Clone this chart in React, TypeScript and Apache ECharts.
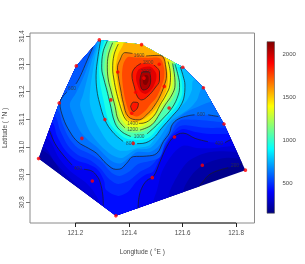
import React, { useEffect, useRef } from "react";
import * as echarts from "echarts";

type P = number[];

const jetStops = ["#00007F", "#0000FF", "#007FFF", "#00FFFF", "#7FFF7F", "#FFFF00", "#FF7F00", "#FF0000", "#7F0000"];
const barMin = 153;
const barMax = 2140;
const barTicks = [500, 1000, 1500, 2000];
const lonTicks = [121.2, 121.4, 121.6, 121.8];
const latTicks = [30.8, 30.9, 31.0, 31.1, 31.2, 31.3, 31.4];

const hull: P[] = [[121.289,31.387],[121.447,31.370],[121.601,31.288],[121.678,31.214],[121.755,31.083],[121.835,30.916],[121.351,30.751],[121.062,30.958],[121.139,31.159],[121.203,31.293]];

const stations: P[] = [[121.289,31.387],[121.447,31.370],[121.203,31.293],[121.358,31.271],[121.456,31.249],[121.513,31.299],[121.601,31.288],[121.425,31.198],[121.532,31.219],[121.139,31.159],[121.332,31.170],[121.678,31.214],[121.410,31.122],[121.310,31.099],[121.550,31.141],[121.755,31.083],[121.224,31.031],[121.416,31.013],[121.570,31.036],[121.062,30.958],[121.674,30.934],[121.263,30.877],[121.487,30.889],[121.835,30.916],[121.351,30.751]];

// contour lines, split where a level label interrupts them
const c200: P[][] = [
  [[121.662,30.857],[121.680,30.879],[121.699,30.899],[121.728,30.913],[121.771,30.925]],
  [[121.815,30.936],[121.821,30.940]],
];
const c400a: P[][] = [
  [[121.102,31.061],[121.123,31.013],[121.154,30.971],[121.187,30.935]],
  [[121.232,30.919],[121.261,30.913],[121.280,30.895],[121.292,30.873],[121.302,30.826],[121.304,30.788]],
];
const c400b: P[][] = [
  [[121.434,30.778],[121.437,30.816],[121.447,30.850],[121.467,30.879],[121.491,30.893],[121.516,30.947],[121.541,31.001],[121.568,31.037],[121.602,31.050],[121.647,31.031],[121.695,31.019]],
  [[121.759,31.016],[121.781,31.027]],
];
const c600: P[][] = [
  [[121.265,31.361],[121.244,31.314],[121.217,31.254],[121.202,31.228]],
  [[121.168,31.199],[121.142,31.159],[121.154,31.105],[121.179,31.055],[121.209,31.018],[121.249,30.995],[121.280,30.976],[121.317,30.938],[121.351,30.919],[121.366,30.920],[121.391,30.941],[121.416,30.965],[121.466,30.967],[121.504,30.977],[121.528,31.019],[121.551,31.050],[121.561,31.080],[121.584,31.101],[121.622,31.113],[121.645,31.116]],
  [[121.696,31.116],[121.734,31.110]],
];
const c800: P[][] = [
  [[121.294,31.385],[121.284,31.326],[121.277,31.257],[121.280,31.206],[121.290,31.159],[121.310,31.098],[121.339,31.054],[121.378,31.020]],
  [[121.430,31.012],[121.452,31.013],[121.490,31.031],[121.522,31.068],[121.560,31.110],[121.591,31.146],[121.607,31.188],[121.609,31.224],[121.602,31.257],[121.592,31.289]],
];
const c1000: P[][] = [
  [[121.319,31.383],[121.303,31.343],[121.298,31.286],[121.307,31.242],[121.317,31.206],[121.329,31.158],[121.348,31.086],[121.373,31.055],[121.407,31.038]],
  [[121.467,31.047],[121.497,31.073],[121.522,31.098],[121.560,31.140],[121.584,31.188],[121.589,31.224],[121.583,31.260],[121.572,31.299]],
];
const c1200: P[][] = [
  [[121.339,31.377],[121.323,31.333],[121.319,31.286],[121.323,31.242],[121.332,31.206],[121.348,31.146],[121.360,31.098],[121.385,31.069]],
  [[121.441,31.061],[121.485,31.080],[121.516,31.122],[121.535,31.152],[121.560,31.188],[121.572,31.224],[121.570,31.260],[121.563,31.302]],
];
const c1400: P[][] = [
  [[121.360,31.372],[121.344,31.333],[121.339,31.282],[121.344,31.242],[121.351,31.206],[121.364,31.158],[121.381,31.110],[121.393,31.094]],
  [[121.437,31.085],[121.453,31.086],[121.491,31.110],[121.516,31.152],[121.538,31.188],[121.553,31.224],[121.555,31.260],[121.546,31.309]],
];
const c1600: P[][] = [
  [[121.464,31.329],[121.508,31.331],[121.527,31.326],[121.538,31.286],[121.540,31.257],[121.531,31.220],[121.516,31.184],[121.497,31.152],[121.472,31.122],[121.434,31.098],[121.397,31.110],[121.379,31.158],[121.369,31.206],[121.361,31.249],[121.357,31.286],[121.366,31.314],[121.385,31.341],[121.413,31.338]],
];
const c1800: P[][] = [
  [[121.493,31.296],[121.514,31.271],[121.514,31.242],[121.497,31.213],[121.471,31.184],[121.447,31.170],[121.432,31.181],[121.421,31.213],[121.411,31.260],[121.422,31.286],[121.445,31.302]],
];
const c1800b: P[][] = [
  [[121.406,31.146],[121.416,31.162],[121.435,31.158],[121.431,31.140],[121.416,31.128],[121.406,31.146]],
];
const c2000: P[][] = [
  [[121.441,31.242],[121.453,31.272],[121.472,31.272],[121.481,31.242],[121.472,31.214],[121.453,31.206],[121.444,31.218],[121.441,31.242]],
];

// estimated colour steps between the drawn contour levels
const f250: P[] = [[121.052,30.996],[121.105,30.967],[121.150,30.888],[121.15,30.6],[121.602,30.6],[121.602,30.837],[121.635,30.899],[121.684,30.938],[121.759,30.960],[121.95,30.967],[121.95,31.5],[120.95,31.5],[120.95,30.996]];
const f300: P[] = [[121.080,31.000],[121.123,30.946],[121.179,30.888],[121.236,30.834],[121.280,30.788],[121.280,30.70],[121.546,30.70],[121.546,30.819],[121.583,30.899],[121.628,30.953],[121.703,30.982],[121.807,30.982],[121.95,30.982],[121.95,31.5],[120.95,31.5],[120.95,31.0]];
const f350: P[] = [[121.092,31.032],[121.138,30.960],[121.183,30.910],[121.236,30.873],[121.269,30.837],[121.292,30.790],[121.292,30.66],[121.49,30.66],[121.49,30.797],[121.505,30.845],[121.523,30.910],[121.561,30.971],[121.602,31.004],[121.654,30.996],[121.721,30.996],[121.796,31.004],[121.95,31.004],[121.95,31.5],[120.95,31.5],[120.95,31.032]];
const f450: P[] = [[121.110,31.090],[121.131,31.040],[121.161,30.989],[121.202,30.953],[121.247,30.938],[121.284,30.917],[121.307,30.877],[121.314,30.845],[121.359,30.823],[121.396,30.837],[121.426,30.873],[121.460,30.899],[121.490,30.910],[121.512,30.953],[121.538,31.007],[121.564,31.043],[121.602,31.065],[121.647,31.054],[121.703,31.047],[121.763,31.047],[121.95,31.047],[121.95,31.5],[120.95,31.5],[120.95,31.09]];
const f500: P[] = [[121.120,31.112],[121.142,31.061],[121.172,31.004],[121.209,30.971],[121.254,30.953],[121.292,30.924],[121.322,30.888],[121.359,30.866],[121.404,30.881],[121.441,30.910],[121.478,30.928],[121.508,30.960],[121.535,31.011],[121.561,31.047],[121.591,31.076],[121.636,31.076],[121.684,31.069],[121.748,31.069],[121.95,31.069],[121.95,31.5],[120.95,31.5],[120.95,31.112]];
const f550: P[] = [[121.131,31.134],[121.150,31.087],[121.176,31.032],[121.209,30.996],[121.262,30.971],[121.299,30.946],[121.336,30.906],[121.366,30.895],[121.404,30.913],[121.434,30.938],[121.478,30.949],[121.516,30.964],[121.535,31.014],[121.557,31.049],[121.576,31.083],[121.598,31.098],[121.647,31.098],[121.703,31.094],[121.755,31.090],[121.95,31.09],[121.95,31.5],[120.95,31.5],[120.95,31.134]];
const f650: P[] = [[121.273,31.365],[121.254,31.314],[121.232,31.257],[121.202,31.195],[121.179,31.155],[121.194,31.105],[121.217,31.058],[121.247,31.025],[121.284,30.996],[121.329,30.953],[121.366,30.940],[121.404,30.964],[121.430,30.982],[121.478,30.982],[121.508,31.000],[121.535,31.040],[121.557,31.076],[121.583,31.105],[121.621,31.130],[121.658,31.145],[121.710,31.163],[121.95,31.163],[121.95,31.5],[121.273,31.5]];
const f700: P[] = [[121.280,31.372],[121.262,31.314],[121.247,31.257],[121.228,31.188],[121.217,31.152],[121.232,31.105],[121.254,31.054],[121.292,31.007],[121.336,30.971],[121.374,30.960],[121.422,30.989],[121.478,30.996],[121.516,31.036],[121.553,31.090],[121.591,31.116],[121.628,31.141],[121.654,31.170],[121.677,31.213],[121.95,31.213],[121.95,31.5],[121.28,31.5]];
const f750: P[] = [[121.288,31.380],[121.273,31.322],[121.262,31.257],[121.254,31.199],[121.254,31.155],[121.269,31.105],[121.292,31.061],[121.321,31.018],[121.359,30.989],[121.396,30.987],[121.430,30.996],[121.478,31.007],[121.508,31.050],[121.546,31.098],[121.583,31.134],[121.617,31.170],[121.635,31.206],[121.643,31.242],[121.95,31.242],[121.95,31.5],[121.288,31.5]];
const f900: P[] = [[121.307,31.383],[121.292,31.336],[121.288,31.278],[121.293,31.224],[121.303,31.177],[121.322,31.098],[121.348,31.061],[121.385,31.032],[121.434,31.025],[121.478,31.036],[121.508,31.069],[121.542,31.108],[121.576,31.145],[121.598,31.188],[121.598,31.224],[121.592,31.260],[121.583,31.289],[121.65,31.289],[121.65,31.5],[121.307,31.5]];
const f1100: P[] = [[121.329,31.383],[121.314,31.336],[121.308,31.286],[121.314,31.242],[121.325,31.199],[121.340,31.141],[121.355,31.090],[121.381,31.061],[121.422,31.051],[121.464,31.061],[121.497,31.094],[121.527,31.134],[121.561,31.170],[121.579,31.213],[121.578,31.257],[121.566,31.300],[121.65,31.30],[121.65,31.5],[121.329,31.5]];
const f1300: P[] = [[121.350,31.376],[121.333,31.333],[121.329,31.286],[121.333,31.242],[121.342,31.202],[121.355,31.152],[121.370,31.105],[121.396,31.076],[121.441,31.072],[121.478,31.094],[121.508,31.134],[121.542,31.177],[121.561,31.220],[121.563,31.257],[121.555,31.307],[121.65,31.307],[121.65,31.5],[121.35,31.5]];
const f1500: P[] = [[121.381,31.380],[121.359,31.333],[121.350,31.286],[121.355,31.242],[121.361,31.206],[121.372,31.159],[121.389,31.105],[121.419,31.090],[121.460,31.103],[121.497,31.134],[121.523,31.170],[121.542,31.213],[121.546,31.257],[121.538,31.322],[121.6,31.4],[121.381,31.5]];
const f1700: P[] = [[121.374,31.260],[121.379,31.300],[121.396,31.325],[121.430,31.323],[121.471,31.322],[121.516,31.320],[121.531,31.286],[121.531,31.249],[121.516,31.206],[121.501,31.177],[121.478,31.152],[121.460,31.130],[121.430,31.110],[121.404,31.121],[121.389,31.159],[121.379,31.206]];
const f1900: P[] = [[121.426,31.249],[121.434,31.278],[121.456,31.289],[121.482,31.289],[121.501,31.267],[121.501,31.242],[121.486,31.210],[121.464,31.192],[121.445,31.199],[121.434,31.217]];
const f2100: P[] = [[121.452,31.246],[121.460,31.260],[121.471,31.257],[121.473,31.239],[121.464,31.224],[121.454,31.228]];

const levelLabels: { name: string; value: P }[] = [
  { name: "200", value: [121.796, 30.933] },
  { name: "400", value: [121.209, 30.923] },
  { name: "400", value: [121.736, 31.011] },
  { name: "600", value: [121.187, 31.213] },
  { name: "600", value: [121.669, 31.116] },
  { name: "800", value: [121.404, 31.012] },
  { name: "1000", value: [121.438, 31.037] },
  { name: "1200", value: [121.413, 31.062] },
  { name: "1400", value: [121.413, 31.086] },
  { name: "1600", value: [121.438, 31.330] },
  { name: "1800", value: [121.471, 31.304] },
  { name: "2000", value: [121.464, 31.272] },
];

const fills: { tone: number; pts: P[] }[] = [
  { tone: 225, pts: [...c200.flat(), [121.95,30.94],[121.95,31.5],[120.95,31.5],[120.95,30.6],[121.662,30.6]] },
  { tone: 275, pts: f250 },
  { tone: 325, pts: f300 },
  { tone: 375, pts: f350 },
  { tone: 425, pts: [...c400a.flat(), [121.304,30.66],[121.434,30.66], ...c400b.flat(), [121.95,31.027],[121.95,31.5],[120.95,31.5],[120.95,31.061]] },
  { tone: 475, pts: f450 },
  { tone: 525, pts: f500 },
  { tone: 575, pts: f550 },
  { tone: 625, pts: [...c600.flat(), [121.95,31.11],[121.95,31.5],[121.265,31.5]] },
  { tone: 675, pts: f650 },
  { tone: 725, pts: f700 },
  { tone: 775, pts: f750 },
  { tone: 850, pts: [...c800.flat(), [121.65,31.289],[121.65,31.5],[121.294,31.5]] },
  { tone: 950, pts: f900 },
  { tone: 1050, pts: [...c1000.flat(), [121.65,31.299],[121.65,31.5],[121.319,31.5]] },
  { tone: 1150, pts: f1100 },
  { tone: 1250, pts: [...c1200.flat(), [121.65,31.302],[121.65,31.5],[121.339,31.5]] },
  { tone: 1350, pts: f1300 },
  { tone: 1450, pts: [...c1400.flat(), [121.65,31.309],[121.65,31.5],[121.36,31.5]] },
  { tone: 1550, pts: f1500 },
  { tone: 1650, pts: c1600.flat() },
  { tone: 1750, pts: f1700 },
  { tone: 1850, pts: c1800.flat() },
  { tone: 1850, pts: c1800b.flat() },
  { tone: 1950, pts: f1900 },
  { tone: 2050, pts: c2000.flat() },
  { tone: 2130, pts: f2100 },
];

const contourSegments: P[][] = [c200, c400a, c400b, c600, c800, c1000, c1200, c1400, c1600, c1800, c1800b, c2000].flat();

const jet = (v: number) => echarts.color.lerp(Math.min(1, Math.max(0, (v - barMin) / (barMax - barMin))), jetStops) as string;

const fontFamily = "'Liberation Sans', Arial, sans-serif";
const textColor = "#4a4a4a";

export default function App() {
  const ref = useRef<HTMLDivElement>(null);
  useEffect(() => {
    const chart = echarts.init(ref.current!, undefined, { renderer: "svg" });
    const option: any = {
      animation: false,
      grid: [
        { left: 30, top: 33, width: 224.5, height: 190, show: true, borderColor: "#8a8a8a", borderWidth: 1, backgroundColor: "transparent", outerBoundsMode: "none" },
        { left: 267, top: 41.7, width: 7.5, height: 171.5, outerBoundsMode: "none" },
      ],
      xAxis: [
        {
          type: "value", gridIndex: 0, min: 121.03, max: 121.869,
          name: "Longitude ( °E )", nameLocation: "middle", nameGap: 25,
          nameTextStyle: { fontSize: 6.5, color: textColor, fontFamily },
          splitLine: { show: false }, axisLine: { show: false },
          axisTick: { show: true, length: 4, customValues: lonTicks, lineStyle: { color: "#222", width: 1 } },
          axisLabel: { fontSize: 6.3, color: textColor, fontFamily, margin: 6, customValues: lonTicks, formatter: (v: number) => v.toFixed(1) },
        },
        { type: "value", gridIndex: 1, min: 0, max: 1, show: false },
      ],
      yAxis: [
        {
          type: "value", gridIndex: 0, min: 30.725, max: 31.412,
          name: "Latitude ( °N )", nameLocation: "middle", nameGap: 22, nameRotate: 90,
          nameTextStyle: { fontSize: 6.5, color: textColor, fontFamily },
          splitLine: { show: false }, axisLine: { show: false },
          axisTick: { show: true, length: 4, customValues: latTicks, lineStyle: { color: "#777", width: 1 } },
          axisLabel: { fontSize: 6.3, color: textColor, fontFamily, rotate: 90, margin: 6, customValues: latTicks, formatter: (v: number) => v.toFixed(1) },
        },
        {
          type: "value", gridIndex: 1, position: "right", min: barMin, max: barMax,
          splitLine: { show: false }, axisLine: { show: false },
          axisTick: { show: true, length: 3, customValues: barTicks, lineStyle: { color: "#666", width: 1 } },
          axisLabel: { fontSize: 6, color: textColor, fontFamily, margin: 8, customValues: barTicks, formatter: (v: number) => String(v) },
        },
      ],
      series: [
        {
          type: "custom", xAxisIndex: 0, yAxisIndex: 0, clip: false, silent: true, z: 1,
          data: fills.map((f, i) => [f.pts[0][0], f.pts[0][1], i]),
          renderItem: (_p: any, api: any) => {
            const f = fills[api.value(2)];
            const toPx = (pts: P[]) => pts.map((q) => api.coord(q));
            return {
              type: "group",
              children: [
                {
                  type: "polygon",
                  shape: { points: toPx(hull) },
                  style: { fill: jet(175), opacity: api.value(2) === 0 ? 1 : 0 },
                },
                {
                  type: "polygon",
                  shape: { points: toPx(f.pts), smooth: 0.3 },
                  style: { fill: jet(f.tone) },
                  clipPath: { type: "polygon", shape: { points: toPx(hull) } },
                },
              ],
            };
          },
        },
        ...contourSegments.map((seg) => ({
          type: "line", xAxisIndex: 0, yAxisIndex: 0, data: seg, smooth: 0.4, showSymbol: false, silent: true, z: 3,
          lineStyle: { color: "#1c1c1c", width: 0.7 }, clip: false,
        })),
        {
          type: "scatter", xAxisIndex: 0, yAxisIndex: 0, silent: true, z: 4, symbolSize: 1,
          itemStyle: { color: "transparent" }, data: levelLabels,
          label: { show: true, position: "inside", formatter: "{b}", fontSize: 4.8, color: "#333", fontFamily },
        },
        {
          type: "scatter", xAxisIndex: 0, yAxisIndex: 0, silent: true, z: 5, symbolSize: 3.6, clip: false,
          itemStyle: { color: "#ff0000" }, data: stations,
        },
        {
          type: "line", xAxisIndex: 0, yAxisIndex: 0, silent: true, z: 6, showSymbol: false, clip: false,
          lineStyle: { color: "#222", width: 1 }, data: [[lonTicks[0], 30.725], [lonTicks[3], 30.725]],
        },
        {
          type: "custom", xAxisIndex: 1, yAxisIndex: 1, silent: true, clip: false, z: 2,
          data: [[0, barMin, 1, barMax]],
          renderItem: (_p: any, api: any) => {
            const a = api.coord([api.value(0), api.value(1)]);
            const b = api.coord([api.value(2), api.value(3)]);
            return {
              type: "rect",
              shape: { x: a[0], y: b[1], width: b[0] - a[0], height: a[1] - b[1] },
              style: {
                stroke: "#555", lineWidth: 0.6,
                fill: new echarts.graphic.LinearGradient(0, 1, 0, 0, jetStops.map((color, i) => ({ offset: i / (jetStops.length - 1), color }))),
              },
            };
          },
        },
      ],
    };
    chart.setOption(option);
    return () => chart.dispose();
  }, []);
  return <div ref={ref} style={{ position: "fixed", left: 0, top: 0, width: 305, height: 264 }} />;
}
